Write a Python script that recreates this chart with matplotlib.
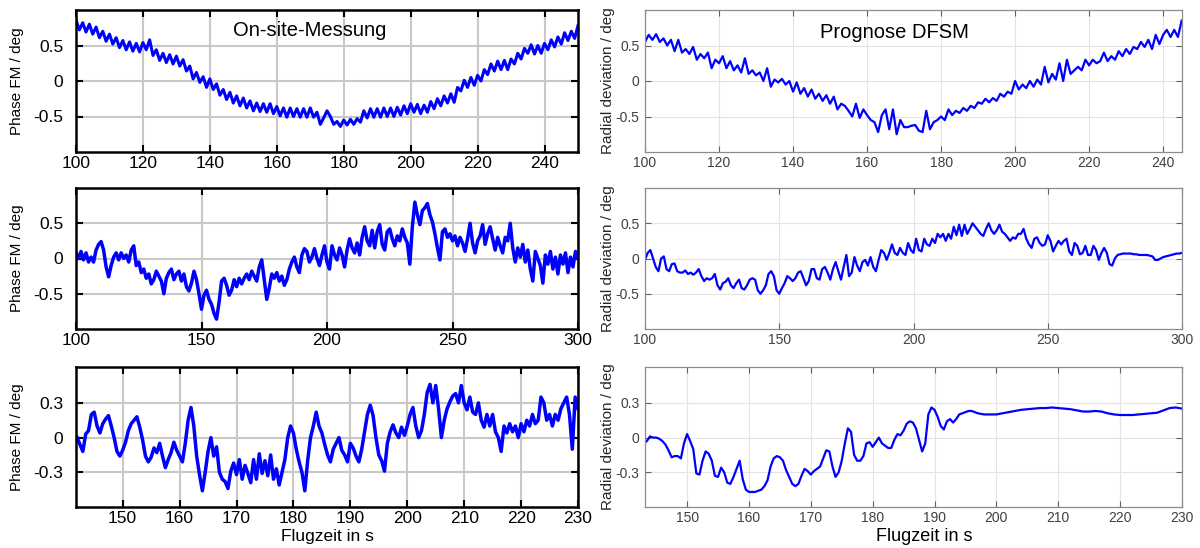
import numpy as np
import matplotlib
matplotlib.use('Agg')
import matplotlib.pyplot as plt

plt.rcParams['font.family'] = ['Liberation Sans', 'DejaVu Sans']
plt.rcParams['axes.unicode_minus'] = False

# On-site measurement, flight 1 (1 s steps)
t_meas1 = np.arange(100, 251)
phase_meas1 = [
    0.86, 0.72, 0.82, 0.69, 0.80, 0.66, 0.76, 0.61, 0.70, 0.56,
    0.66, 0.52, 0.61, 0.47, 0.57, 0.44, 0.55, 0.42, 0.53, 0.41,
    0.54, 0.44, 0.58, 0.36, 0.44, 0.29, 0.39, 0.26, 0.37, 0.24,
    0.35, 0.21, 0.30, 0.14, 0.21, 0.03, 0.12, -0.02, 0.06, -0.09,
    0.03, -0.12, -0.04, -0.20, -0.12, -0.26, -0.16, -0.31, -0.21, -0.35,
    -0.24, -0.38, -0.28, -0.42, -0.31, -0.43, -0.32, -0.44, -0.32, -0.46,
    -0.36, -0.49, -0.38, -0.51, -0.38, -0.50, -0.39, -0.51, -0.39, -0.51,
    -0.38, -0.51, -0.44, -0.61, -0.52, -0.42, -0.50, -0.61, -0.57, -0.64,
    -0.55, -0.62, -0.54, -0.61, -0.53, -0.58, -0.42, -0.52, -0.39, -0.51,
    -0.39, -0.51, -0.38, -0.50, -0.38, -0.50, -0.37, -0.48, -0.35, -0.46,
    -0.32, -0.44, -0.33, -0.46, -0.34, -0.44, -0.29, -0.39, -0.25, -0.35,
    -0.21, -0.31, -0.18, -0.30, -0.09, -0.14, 0.01, -0.09, 0.05, -0.06,
    0.08, 0.00, 0.16, 0.09, 0.24, 0.14, 0.28, 0.16, 0.29, 0.16,
    0.31, 0.24, 0.39, 0.31, 0.46, 0.39, 0.51, 0.38, 0.50, 0.39,
    0.53, 0.44, 0.58, 0.48, 0.62, 0.52, 0.68, 0.57, 0.70, 0.60,
    0.78,
]

# DFSM prediction, flight 1
t_pred1 = np.arange(100, 246)
radial_pred1 = [
    0.55, 0.65, 0.58, 0.66, 0.55, 0.60, 0.50, 0.58, 0.42, 0.58,
    0.40, 0.45, 0.38, 0.48, 0.30, 0.38, 0.32, 0.40, 0.18, 0.30,
    0.25, 0.35, 0.18, 0.28, 0.15, 0.22, 0.12, 0.32, 0.10, 0.15,
    0.08, 0.12, 0.00, 0.18, -0.08, 0.02, -0.02, 0.03, -0.05, 0.00,
    -0.15, -0.02, -0.18, -0.10, -0.22, -0.12, -0.25, -0.18, -0.28, -0.20,
    -0.32, -0.22, -0.40, -0.32, -0.35, -0.42, -0.50, -0.32, -0.52, -0.40,
    -0.48, -0.55, -0.58, -0.72, -0.48, -0.40, -0.68, -0.40, -0.75, -0.55,
    -0.65, -0.65, -0.63, -0.62, -0.70, -0.72, -0.42, -0.68, -0.58, -0.55,
    -0.50, -0.55, -0.40, -0.48, -0.42, -0.45, -0.38, -0.42, -0.35, -0.38,
    -0.30, -0.32, -0.25, -0.30, -0.24, -0.28, -0.18, -0.22, -0.15, -0.18,
    0.00, -0.12, -0.05, -0.10, 0.00, -0.08, 0.02, -0.05, 0.20, -0.02,
    0.10, 0.02, 0.25, 0.00, 0.30, 0.10, 0.15, 0.20, 0.15, 0.30,
    0.22, 0.30, 0.25, 0.28, 0.40, 0.28, 0.35, 0.30, 0.42, 0.35,
    0.45, 0.38, 0.48, 0.45, 0.55, 0.48, 0.58, 0.45, 0.65, 0.52,
    0.65, 0.72, 0.62, 0.72, 0.62, 0.85,
]

# On-site measurement, flight 2
t_meas2 = np.arange(100, 301)
phase_meas2 = [
    0.08, 0.00, 0.10, -0.02, 0.08, -0.05, 0.02, -0.05, 0.12, 0.20,
    0.24, 0.12, -0.12, -0.26, -0.10, 0.02, 0.08, -0.02, 0.08, 0.00,
    0.05, -0.05, 0.12, 0.18, -0.10, -0.05, -0.20, -0.15, -0.28, -0.22,
    -0.36, -0.30, -0.18, -0.25, -0.32, -0.50, -0.28, -0.20, -0.15, -0.30,
    -0.22, -0.18, -0.32, -0.22, -0.40, -0.46, -0.35, -0.18, -0.30, -0.50,
    -0.72, -0.52, -0.45, -0.58, -0.65, -0.78, -0.86, -0.62, -0.32, -0.28,
    -0.38, -0.52, -0.45, -0.30, -0.40, -0.28, -0.36, -0.28, -0.22, -0.30,
    -0.18, -0.25, -0.32, -0.12, -0.02, -0.30, -0.58, -0.42, -0.22, -0.28,
    -0.20, -0.32, -0.25, -0.38, -0.30, -0.15, -0.05, 0.02, -0.12, -0.20,
    0.05, 0.14, 0.10, -0.05, 0.02, 0.14, 0.00, -0.10, 0.05, 0.18,
    -0.05, -0.15, 0.18, 0.05, -0.02, 0.15, 0.05, -0.12, 0.12, 0.28,
    0.15, 0.08, 0.22, 0.05, 0.30, 0.45, 0.25, 0.18, 0.40, 0.15,
    0.38, 0.48, 0.20, 0.12, 0.38, 0.42, 0.28, 0.18, 0.32, 0.25,
    0.42, 0.30, 0.22, -0.08, 0.45, 0.80, 0.62, 0.48, 0.68, 0.72,
    0.78, 0.62, 0.52, 0.35, 0.15, -0.02, 0.38, 0.42, 0.30, 0.35,
    0.25, 0.32, 0.18, 0.30, 0.22, 0.10, 0.28, 0.50, 0.22, 0.08,
    0.25, 0.32, 0.48, 0.20, 0.35, 0.45, 0.28, 0.12, 0.30, 0.18,
    0.08, 0.30, 0.25, 0.50, 0.15, -0.05, 0.15, 0.02, 0.20, -0.05,
    0.12, -0.15, -0.32, 0.10, 0.00, -0.10, -0.35, 0.05, -0.08, 0.10,
    -0.15, 0.02, -0.22, 0.05, -0.08, 0.08, -0.20, 0.02, -0.12, 0.10,
    0.00,
]

# DFSM prediction, flight 2
t_pred2 = np.arange(100, 301)
radial_pred2 = [
    -0.02, 0.08, 0.12, 0.00, -0.12, -0.18, 0.00, 0.03, -0.15, -0.18,
    -0.08, -0.07, -0.18, -0.20, -0.20, -0.17, -0.22, -0.20, -0.23, -0.20,
    -0.15, -0.25, -0.32, -0.28, -0.30, -0.28, -0.22, -0.38, -0.44, -0.35,
    -0.33, -0.28, -0.38, -0.42, -0.35, -0.30, -0.42, -0.44, -0.38, -0.30,
    -0.28, -0.30, -0.45, -0.50, -0.45, -0.38, -0.22, -0.18, -0.25, -0.45,
    -0.50, -0.42, -0.35, -0.25, -0.28, -0.32, -0.28, -0.20, -0.18, -0.28,
    -0.38, -0.32, -0.15, -0.15, -0.28, -0.30, -0.15, -0.12, -0.20, -0.30,
    -0.15, -0.05, -0.18, -0.30, -0.12, 0.05, -0.25, -0.20, 0.02, -0.10,
    -0.18, -0.05, -0.02, -0.10, 0.02, -0.12, -0.18, -0.02, 0.12, 0.08,
    -0.02, 0.08, 0.20, 0.08, 0.05, 0.15, 0.08, 0.05, 0.22, 0.12,
    0.08, 0.28, 0.12, 0.10, 0.28, 0.20, 0.18, 0.28, 0.22, 0.35,
    0.30, 0.35, 0.25, 0.35, 0.28, 0.45, 0.33, 0.48, 0.32, 0.48,
    0.35, 0.42, 0.50, 0.45, 0.40, 0.35, 0.32, 0.42, 0.50, 0.40,
    0.35, 0.40, 0.48, 0.38, 0.35, 0.30, 0.25, 0.30, 0.28, 0.35,
    0.35, 0.42, 0.28, 0.20, 0.15, 0.28, 0.30, 0.22, 0.18, 0.20,
    0.33, 0.25, 0.10, 0.18, 0.25, 0.20, 0.25, 0.28, 0.10, 0.05,
    0.22, 0.18, 0.06, 0.08, 0.18, 0.05, 0.05, 0.18, 0.12, -0.02,
    0.08, 0.15, 0.08, -0.08, -0.10, 0.00, 0.05, 0.06, 0.07, 0.07,
    0.07, 0.07, 0.06, 0.06, 0.05, 0.05, 0.05, 0.05, 0.04, 0.03,
    -0.02, -0.02, 0.00, 0.02, 0.03, 0.04, 0.05, 0.06, 0.07, 0.07,
    0.08,
]

# On-site measurement, flight 3 (0.5 s steps)
t_meas3 = np.arange(142, 230.25, 0.5)
phase_meas3 = [
    0.00, -0.06, -0.12, 0.03, 0.06, 0.20, 0.22, 0.10, 0.04, 0.12,
    0.16, 0.19, 0.10, 0.00, -0.12, -0.16, -0.11, -0.04, 0.06, 0.12,
    0.15, 0.18, 0.09, -0.02, -0.16, -0.21, -0.17, -0.09, -0.13, -0.05,
    -0.16, -0.26, -0.19, -0.13, -0.04, -0.11, -0.16, -0.21, -0.05, 0.15,
    0.26, 0.10, -0.16, -0.32, -0.46, -0.30, -0.12, 0.00, -0.16, -0.08,
    -0.30, -0.36, -0.38, -0.44, -0.29, -0.22, -0.32, -0.19, -0.36, -0.24,
    -0.31, -0.39, -0.19, -0.36, -0.14, -0.31, -0.20, -0.33, -0.15, -0.36,
    -0.27, -0.41, -0.30, -0.19, 0.00, 0.10, 0.04, -0.10, -0.21, -0.30,
    -0.46, -0.20, 0.00, 0.10, 0.22, 0.10, 0.04, -0.06, -0.15, -0.21,
    -0.10, -0.05, 0.00, -0.11, -0.15, -0.21, -0.05, -0.09, -0.16, -0.21,
    -0.10, 0.05, 0.20, 0.28, 0.19, 0.00, -0.15, -0.20, -0.29, -0.05,
    0.05, 0.11, 0.04, 0.00, 0.09, 0.02, 0.10, 0.20, 0.26, 0.10,
    0.00, 0.06, 0.20, 0.39, 0.46, 0.30, 0.45, 0.25, 0.00, 0.15,
    0.25, 0.31, 0.36, 0.38, 0.30, 0.45, 0.30, 0.24, 0.35, 0.22,
    0.20, 0.30, 0.15, 0.09, 0.20, 0.10, 0.20, 0.05, 0.00, -0.12,
    0.10, 0.04, 0.12, 0.05, 0.10, 0.00, 0.12, 0.05, 0.15, 0.10,
    0.20, 0.12, 0.15, 0.35, 0.30, 0.15, 0.20, 0.10, 0.20, 0.15,
    0.25, 0.30, 0.35, 0.20, -0.10, 0.35,
    0.25,
]

# DFSM prediction, flight 3 (0.5 s up to 196 s, then 1 s)
t_pred3 = np.concatenate([np.arange(143, 196.25, 0.5), np.arange(197, 231)])
radial_pred3 = [
    -0.05, -0.03, 0.01, 0.00, 0.00, -0.01, -0.03, -0.06, -0.11, -0.17,
    -0.16, -0.16, -0.18, -0.05, 0.03, -0.03, -0.10, -0.31, -0.32, -0.20,
    -0.12, -0.14, -0.20, -0.33, -0.34, -0.26, -0.30, -0.39, -0.40, -0.34,
    -0.27, -0.20, -0.36, -0.45, -0.47, -0.47, -0.47, -0.46, -0.45, -0.42,
    -0.37, -0.25, -0.18, -0.16, -0.17, -0.20, -0.28, -0.34, -0.40, -0.42,
    -0.40, -0.33, -0.27, -0.29, -0.32, -0.29, -0.27, -0.25, -0.18, -0.11,
    -0.12, -0.25, -0.34, -0.30, -0.20, -0.05, 0.08, 0.05, -0.15, -0.20,
    -0.20, -0.16, -0.05, -0.04, -0.08, -0.04, 0.00, -0.05, -0.07, -0.09,
    -0.09, -0.02, 0.03, 0.02, 0.06, 0.12, 0.14, 0.13, 0.08, -0.02,
    -0.12, -0.05, 0.20, 0.26, 0.24, 0.18, 0.10, 0.07, 0.14, 0.16,
    0.13, 0.16, 0.20, 0.21, 0.22, 0.23, 0.23,
    0.21, 0.20, 0.20, 0.20, 0.21, 0.22, 0.23, 0.24, 0.245, 0.25,
    0.255, 0.255, 0.26, 0.255, 0.25, 0.245, 0.235, 0.225, 0.225, 0.23,
    0.225, 0.21, 0.20, 0.195, 0.195, 0.195, 0.20, 0.205, 0.21, 0.215,
    0.235, 0.255, 0.26, 0.25,
]

xlims_left = [(100, 250), (100, 300), (141.8, 230)]
xlims_right = [(100, 245.1), (100, 300), (143.2, 230)]
xticks_left = [np.arange(100, 241, 20), np.arange(100, 301, 50), np.arange(150, 231, 10)]
xticks_right = [np.arange(100, 241, 20), np.arange(100, 301, 50), np.arange(150, 231, 10)]
yticks_rows = [[-0.5, 0, 0.5], [-0.5, 0, 0.5], [-0.3, 0, 0.3]]
ylims_rows = [(-1.0, 1.0), (-1.0, 1.0), (-0.6, 0.61)]
ytick_labels_rows = [['-0.5', '0', '0.5'], ['-0.5', '0', '0.5'], ['-0.3', '0', '0.3']]
left_linewidths = [2.2, 2.5, 2.5]

W, H = 1200, 548
fig = plt.figure(figsize=(12, 5.48), dpi=100)

rows_px = [(10, 152), (188, 329), (367, 507)]
left_px = (76, 578)
right_px = (645, 1182)


def make_axes(xpx, ypx):
    x0, x1 = xpx
    y0, y1 = ypx
    return fig.add_axes([x0 / W, 1 - y1 / H, (x1 - x0) / W, (y1 - y0) / H])


def style_left(ax):
    for s in ax.spines.values():
        s.set_linewidth(1.8)
        s.set_color('black')
    ax.grid(True, color='#c8c8c8', linewidth=1.5)
    ax.set_axisbelow(True)
    ax.tick_params(direction='in', length=5, width=1.5, colors='black',
                   top=True, right=True, labelsize=12.5)
    ax.tick_params(axis='x', pad=3)
    ax.tick_params(axis='y', pad=9)
    ax.set_ylabel('Phase FM / deg', fontsize=11)
    ax.yaxis.set_label_coords(-0.104, 0.5)


def style_right(ax):
    for s in ax.spines.values():
        s.set_linewidth(0.9)
        s.set_color('#8c8c8c')
    ax.grid(True, color='#e3e3e3', linewidth=0.8)
    ax.set_axisbelow(True)
    ax.tick_params(direction='in', length=4, width=0.8, color='#606060',
                   labelcolor='#404040', top=True, right=True, labelsize=10)
    ax.tick_params(axis='x', pad=3)
    ax.tick_params(axis='y', pad=4)
    ax.set_ylabel('Radial deviation / deg', fontsize=11, color='#262626')
    ax.yaxis.set_label_coords(-0.056, 0.5)


left_data = [(t_meas1, phase_meas1), (t_meas2, phase_meas2), (t_meas3, phase_meas3)]
right_data = [(t_pred1, radial_pred1), (t_pred2, radial_pred2), (t_pred3, radial_pred3)]

for i in range(3):
    ax = make_axes(left_px, rows_px[i])
    t, y = left_data[i]
    ax.plot(t, y, color='#0000ff', linewidth=left_linewidths[i])
    ax.set_xlim(*xlims_left[i])
    ax.set_ylim(*ylims_rows[i])
    ax.set_xticks(xticks_left[i])
    ax.set_yticks(yticks_rows[i])
    ax.set_yticklabels(ytick_labels_rows[i])
    style_left(ax)
    if i == 0:
        ax.text(0.466, 0.855, 'On-site-Messung', transform=ax.transAxes,
                ha='center', va='center', fontsize=14.5)
    if i == 2:
        ax.set_xlabel('Flugzeit in s', fontsize=12.5)
        ax.xaxis.set_label_coords(0.5, -0.155)

    ax = make_axes(right_px, rows_px[i])
    t, y = right_data[i]
    ax.plot(t, y, color='#0000ff', linewidth=1.6)
    ax.set_xlim(*xlims_right[i])
    ax.set_ylim(*ylims_rows[i])
    ax.set_xticks(xticks_right[i])
    ax.set_yticks(yticks_rows[i])
    ax.set_yticklabels(ytick_labels_rows[i])
    style_right(ax)
    if i == 0:
        ax.text(0.465, 0.84, 'Prognose DFSM', transform=ax.transAxes,
                ha='center', va='center', fontsize=14.5)
    if i == 2:
        ax.set_xlabel('Flugzeit in s', fontsize=13)
        ax.xaxis.set_label_coords(0.52, -0.15)

fig.savefig('out.png', dpi=100)
